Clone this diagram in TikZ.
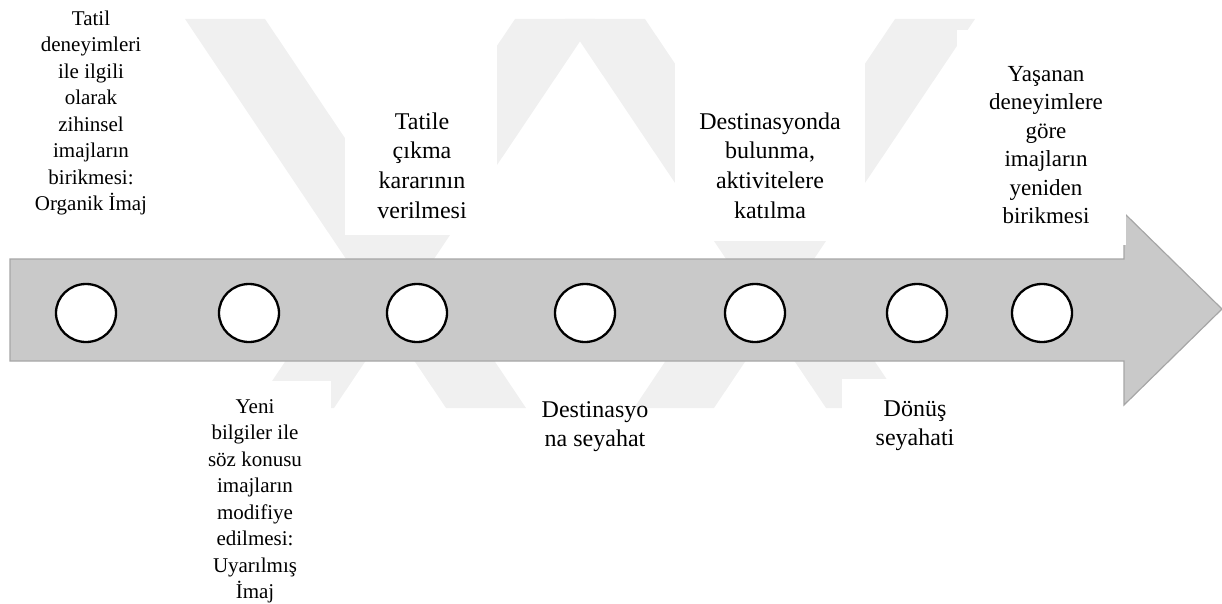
\documentclass[tikz,border=0pt]{standalone}
\usepackage{fontspec}
\setmainfont{Liberation Serif}
\usetikzlibrary{shapes.geometric}
\definecolor{wmark}{RGB}{240,240,240}
\definecolor{arrowfill}{RGB}{201,201,201}
\definecolor{arrowline}{RGB}{166,166,166}
\tikzset{
  stage/.style={ellipse, draw=black, line width=2.3pt, fill=white,
    minimum width=60pt, minimum height=58pt, inner sep=0pt},
  stagetext/.style={anchor=north, align=center, inner sep=0pt},
  smalltxt/.style={font=\fontsize{21}{26.5}\selectfont},
  bigtxt/.style={font=\fontsize{24}{29.7}\selectfont},
  midtxt/.style={font=\fontsize{23}{28.5}\selectfont},
  band/.style={fill=wmark},
  paper/.style={fill=white}
}
\begin{document}
\begin{tikzpicture}[x=1pt,y=-1pt]
\useasboundingbox (0,0) rectangle (1222,604);

% faint background emblem: two crossed pairs of bands
\fill[band] (185,19) -- (265,19) -- (526,408) -- (446,408) -- cycle;
\fill[band] (515,19) -- (595,19) -- (334,408) -- (254,408) -- cycle;
\fill[band] (565,19) -- (645,19) -- (906,408) -- (826,408) -- cycle;
\fill[band] (895,19) -- (975,19) -- (714,408) -- (634,408) -- cycle;

% white grounds behind the captions
\fill[paper] (0,0) rectangle (178,250);
\fill[paper] (179,381) rectangle (331,604);
\fill[paper] (345,21) rectangle (497,235);
\fill[paper] (675,21) rectangle (865,241);
\fill[paper] (842,379) rectangle (991,480);

% timeline arrow
\draw[fill=arrowfill, draw=arrowline, line width=1.2pt, line join=miter]
  (10,259) -- (1124,259) -- (1124,213) -- (1222,309) -- (1124,405)
  -- (1124,361) -- (10,361) -- cycle;

\fill[paper] (957,30) rectangle (1122,258.4);
\fill[paper] (1121,30) rectangle (1126,245);

% stages
\node[stage] (c1) at (86,313) {};
\node[stage] (c2) at (249,313) {};
\node[stage] (c3) at (417,313) {};
\node[stage] (c4) at (585,313) {};
\node[stage] (c5) at (755,313) {};
\node[stage] (c6) at (917,313) {};
\node[stage] (c7) at (1042,313) {};

% captions
\node[stagetext, smalltxt] (t1) at (91,6.45)
  {\strut Tatil\\deneyimleri\\ile ilgili\\olarak\\zihinsel\\imajların\\birikmesi:\\Organik İmaj};
\node[stagetext, smalltxt] (t2) at (255,394.45)
  {\strut Yeni\\bilgiler ile\\söz konusu\\imajların\\modifiye\\edilmesi:\\Uyarılmış\\İmaj};
\node[stagetext, bigtxt] (t3) at (422,108.2)
  {\strut Tatile\\çıkma\\kararının\\verilmesi};
\node[stagetext, bigtxt] (t4) at (770,108.2)
  {\strut Destinasyonda\\bulunma,\\aktivitelere\\katılma};
\node[stagetext, bigtxt] (t5) at (595,396.2)
  {\strut Destinasyo\\na seyahat};
\node[stagetext, bigtxt] (t6) at (915,395.2)
  {\strut Dönüş\\seyahati};
\node[stagetext, midtxt] (t7) at (1046,61)
  {\strut Yaşanan\\deneyimlere\\göre\\imajların\\yeniden\\birikmesi};
\end{tikzpicture}
\end{document}
